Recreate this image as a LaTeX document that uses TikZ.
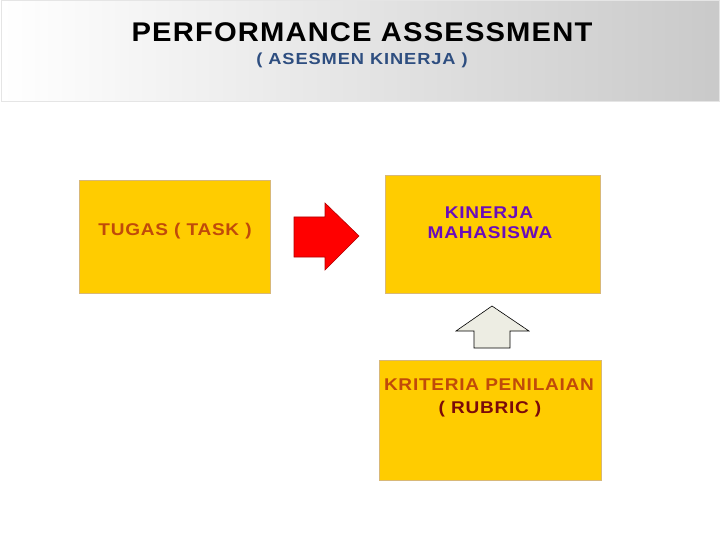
\documentclass[tikz,border=0pt]{standalone}
\usepackage{fontspec}
\setmainfont{Liberation Sans}

\definecolor{boxfill}{HTML}{FFCC00}
\definecolor{boxline}{HTML}{D8B878}
\definecolor{taskred}{HTML}{C04A0A}
\definecolor{kinpurple}{HTML}{6A0DBA}
\definecolor{rubdark}{HTML}{7A0A0A}
\definecolor{subblue}{HTML}{2E4E80}
\definecolor{upfill}{HTML}{EDEDE3}

\tikzset{
  box/.style={draw=boxline,fill=boxfill,line width=0.8pt},
  boxtext/.style={font=\bfseries\fontsize{17}{20}\selectfont\addfontfeature{LetterSpace=4},
    align=center,xscale=1.12,transform shape}
}

\begin{document}
\begin{tikzpicture}[x=1pt,y=-1pt]
\useasboundingbox (0,0) rectangle (720,540);
\fill[white] (0,0) rectangle (720,540);

% header band
\shade[left color=white,right color=gray!42] (1,1) rectangle (719,102);
\draw[gray!20,line width=1pt] (1,1) rectangle (719,102);
\node[font=\bfseries\fontsize{27}{30}\selectfont\addfontfeature{LetterSpace=4},xscale=1.08,transform shape] (title) at (362,32) {PERFORMANCE ASSESSMENT};
\node[font=\bfseries\fontsize{16}{18}\selectfont\addfontfeature{LetterSpace=5},xscale=1.14,transform shape,text=subblue] (subtitle) at (362,60) {( ASESMEN KINERJA )};

% boxes
\draw[box] (79,180) rectangle (270,293);
\node[boxtext,text=taskred] (task) at (175,231) {TUGAS ( TASK )};

\draw[box] (385,175) rectangle (600,293);
\node[boxtext,text=kinpurple] (kinerja) at (489,213) {KINERJA};
\node[boxtext,text=kinpurple] (mhs) at (490,233) {MAHASISWA};

\draw[box] (379,360) rectangle (601,480);
\node[boxtext,text=taskred] (kriteria) at (489,385) {KRITERIA PENILAIAN};
\node[boxtext,text=rubdark] (rubric) at (490,409) {( RUBRIC )};

% block arrows
\filldraw[fill=red,draw=red!70!black,line width=0.6pt]
  (294,217)--(325,217)--(325,203)--(359,236)--(325,270)--(325,257)--(294,257)--cycle;
\filldraw[fill=upfill,draw=black,line width=0.6pt]
  (474,348)--(474,331)--(456,331)--(492,306)--(529,331)--(510,331)--(510,348)--cycle;
\end{tikzpicture}
\end{document}
